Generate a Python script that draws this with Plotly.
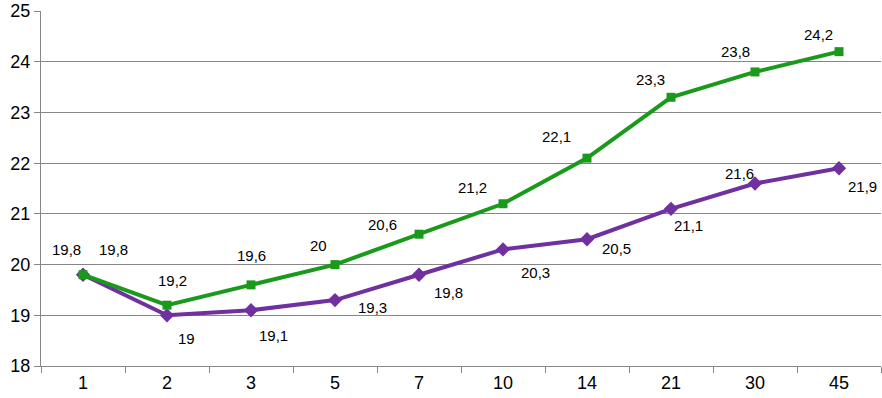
import plotly.graph_objects as go

days = ["1", "2", "3", "5", "7", "10", "14", "21", "30", "45"]
green_values = [19.8, 19.2, 19.6, 20.0, 20.6, 21.2, 22.1, 23.3, 23.8, 24.2]
purple_values = [19.8, 19.0, 19.1, 19.3, 19.8, 20.3, 20.5, 21.1, 21.6, 21.9]
y_ticks = [18, 19, 20, 21, 22, 23, 24, 25]

# label pixel offsets (dx, dy screen-down)
green_offsets = [(-17, -25), (5, -25), (0, -29), (-17, -19), (-37, -10),
                 (-31, -16), (-31, -22), (-21, -18), (-20, -20), (-21, -17)]
purple_offsets = [(30, -25), (19, 23), (22, 25), (37, 7), (29, 18),
                  (32, 23), (29, 9), (17, 17), (-16, -10), (23, 18)]

GREEN = "#1a9a1a"
PURPLE = "#7030a0"
FONT = "Liberation Sans, Arial, sans-serif"

def fmt(v):
    return ("%g" % v).replace(".", ",")

fig = go.Figure()
fig.add_trace(go.Scatter(
    x=days, y=purple_values, mode="lines+markers",
    line=dict(color=PURPLE, width=4),
    marker=dict(symbol="diamond", size=11, color=PURPLE),
    showlegend=False, cliponaxis=False))
fig.add_trace(go.Scatter(
    x=days, y=green_values, mode="lines+markers",
    line=dict(color=GREEN, width=4),
    marker=dict(symbol="square", size=9, color=GREEN),
    showlegend=False, cliponaxis=False))

annotations = []
for vals, offs in ((green_values, green_offsets), (purple_values, purple_offsets)):
    for i, (v, (dx, dy)) in enumerate(zip(vals, offs)):
        annotations.append(dict(
            x=i, y=v, xref="x", yref="y", text=fmt(v), showarrow=False,
            xshift=dx, yshift=-dy,
            font=dict(family=FONT, size=15, color="#000000")))

fig.update_layout(
    width=882, height=398,
    margin=dict(l=41, r=1, t=9, b=32),
    paper_bgcolor="white", plot_bgcolor="white",
    font=dict(family=FONT, color="#000000"),
    annotations=annotations,
    xaxis=dict(
        type="category", range=[-0.5, 9.5],
        showgrid=False, showline=True, linecolor="#868686", linewidth=1,
        ticks="outside", tickson="boundaries", ticklen=6, tickcolor="#868686",
        tickfont=dict(family=FONT, size=18, color="#000000"),
        ticklabeloverflow="allow",
        zeroline=False),
    yaxis=dict(
        range=[18, 25.002], tickvals=y_ticks, ticktext=[str(t) for t in y_ticks],
        showgrid=True, gridcolor="#868686", gridwidth=1,
        showline=True, linecolor="#868686", linewidth=1,
        ticks="outside", ticklen=6, tickcolor="#868686",
        tickfont=dict(family=FONT, size=18, color="#000000"),
        ticklabeloverflow="allow",
        zeroline=False),
)

fig.write_html("out.html", config={"displayModeBar": False},
               post_script="document.body.style.margin='0';")
